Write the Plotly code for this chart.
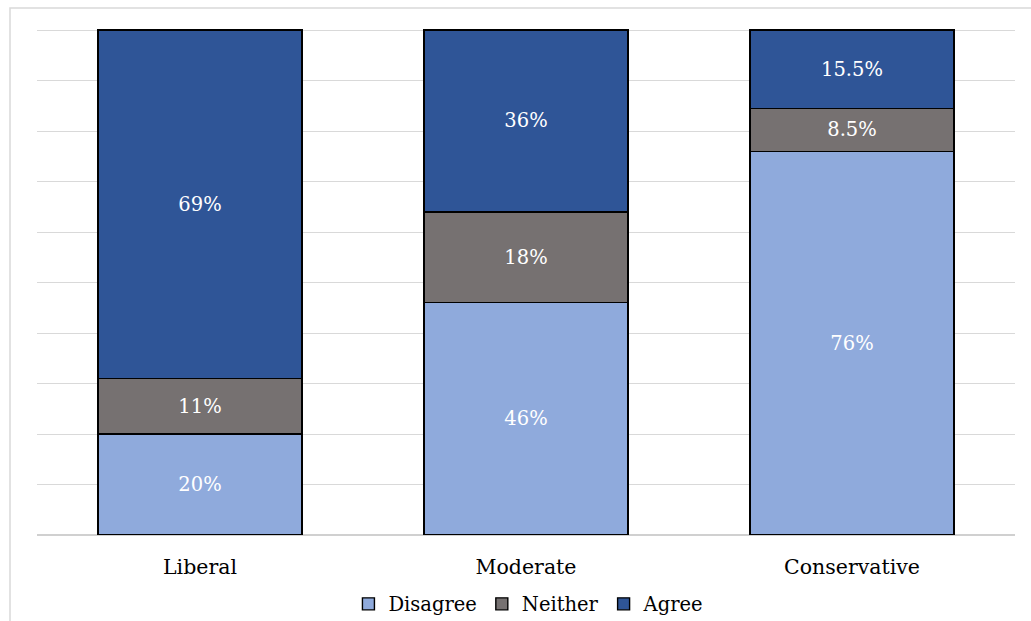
import plotly.graph_objects as go

categories = ["Liberal", "Moderate", "Conservative"]
disagree = [20, 46, 76]
neither = [11, 18, 8.5]
agree = [69, 36, 15.5]

series = [
    ("Disagree", disagree, "#8FAADC"),
    ("Neither", neither, "#767171"),
    ("Agree", agree, "#2F5597"),
]

FONT = "DejaVu Serif"

fig = go.Figure()
for name, vals, color in series:
    fig.add_trace(go.Bar(
        name=name, x=categories, y=vals,
        marker=dict(color=color, line=dict(color="#000000", width=1.4)),
        text=[f"{v:g}%" for v in vals],
        textposition="inside", insidetextanchor="middle",
        textfont=dict(color="white", size=19.5, family=FONT),
        textangle=0,
    ))

fig.update_layout(
    barmode="stack",
    bargap=0.374,
    width=1031, height=621,
    margin=dict(l=37, r=16, t=28, b=86, autoexpand=False),
    paper_bgcolor="white", plot_bgcolor="white",
    font=dict(family=FONT, size=20, color="#000000"),
    showlegend=True,
    legend=dict(orientation="h", x=0.503, xanchor="center", y=-0.098, yanchor="top",
                font=dict(size=19.5, family=FONT), traceorder="normal",
                itemwidth=30, tracegroupgap=0),
    xaxis=dict(showgrid=False, ticks="", tickfont=dict(size=20.5), ticklabelstandoff=17),
    yaxis=dict(range=[0, 100.4], dtick=10, showticklabels=False, showgrid=True,
               gridcolor="#D9D9D9", gridwidth=1, zeroline=True, zerolinecolor="#D0D0D0"),
    uniformtext=dict(mode=False),
)

# outer chart border (light gray) extending past right/bottom edges
fig.add_shape(type="rect", xref="paper", yref="paper",
              x0=(10 - 37) / 978, x1=1.2, y0=-0.5, y1=1 + (28 - 8) / 507,
              line=dict(color="#D9D9D9", width=1.5), layer="below")

fig.write_html("out.html", config={"displayModeBar": False},
               post_script="document.body.style.margin='0';document.body.style.overflow='hidden';")
